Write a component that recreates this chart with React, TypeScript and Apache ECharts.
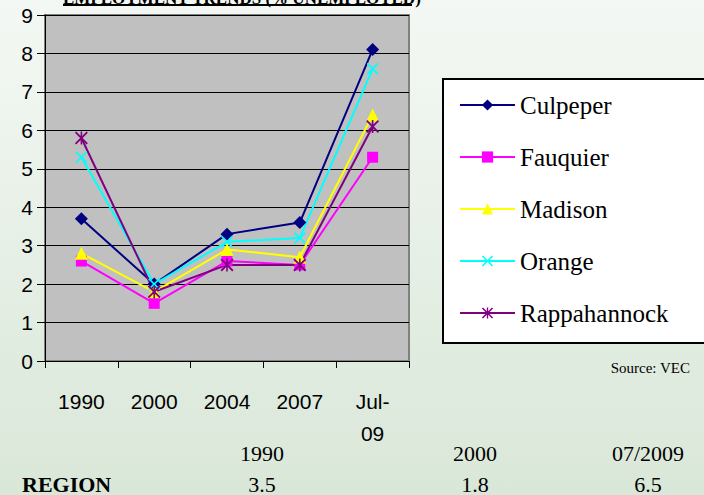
import React, { useEffect, useRef } from "react";
import * as echarts from "echarts";

const categories = ["1990", "2000", "2004", "2007", "Jul-\n09"];
const culpeper = [3.7, 2.0, 3.3, 3.6, 8.1];
const fauquier = [2.6, 1.5, 2.6, 2.5, 5.3];
const madison = [2.8, 1.8, 2.9, 2.7, 6.4];
const orange = [5.3, 2.0, 3.1, 3.2, 7.6];
const rappahannock = [5.8, 1.8, 2.5, 2.5, 6.1];
const seriesNames = ["Culpeper", "Fauquier", "Madison", "Orange", "Rappahannock"];
const regionYears = ["1990", "2000", "07/2009"];
const regionValues = ["3.5", "1.8", "6.5"];
const title = "EMPLOYMENT TRENDS (% UNEMPLOYED)";

const X_PATH = "path://M0,1 L1,0 L5,4 L9,0 L10,1 L6,5 L10,9 L9,10 L5,6 L1,10 L0,9 L4,5 Z";
const STAR_PATH =
  "path://M0,1 L1,0 L5,4 L9,0 L10,1 L6,5 L10,9 L9,10 L5,6 L1,10 L0,9 L4,5 Z M4.4,0 L5.6,0 L5.6,10 L4.4,10 Z";

const TIMES = "'Liberation Serif', 'Times New Roman', serif";
const ARIAL = "'Liberation Sans', Arial, sans-serif";

export default function App() {
  const ref = useRef<HTMLDivElement>(null);
  useEffect(() => {
    document.body.style.margin = "0";
    const chart = echarts.init(ref.current!, null, { renderer: "svg" });
    const colors = ["#000080", "#ff00ff", "#ffff00", "#00ffff", "#800080"];
    const symbols = ["diamond", "rect", "triangle", X_PATH, STAR_PATH];
    const sizes = [13, 11, 13, 12, 13];
    const dataSets = [culpeper, fauquier, madison, orange, rappahannock];
    const colX = [262, 475, 648];
    const graphics: any[] = [
      {
        type: "text",
        x: 63,
        y: 7,
        z: 10,
        style: { text: title, fontFamily: TIMES, fontWeight: "bold", fontSize: 17, fill: "#000", align: "left", verticalAlign: "bottom" },
      },
      {
        type: "rect",
        shape: { x: 63, y: 4, width: 349, height: 2 },
        style: { fill: "#000" },
        z: 10,
      },
      {
        type: "rect",
        shape: { x: 443, y: 79, width: 275, height: 264 },
        style: { fill: "#fff", stroke: "#000", lineWidth: 2 },
        z: 1,
      },
      {
        type: "text",
        x: 690,
        y: 368,
        style: { text: "Source: VEC", fontFamily: TIMES, fontSize: 15, fill: "#000", align: "right", verticalAlign: "middle" },
      },
      {
        type: "text",
        x: 22,
        y: 484,
        style: { text: "REGION", fontFamily: TIMES, fontWeight: "bold", fontSize: 22, fill: "#000", align: "left", verticalAlign: "middle" },
      },
    ];
    regionYears.forEach((t, i) => {
      graphics.push({
        type: "text",
        x: colX[i],
        y: 453,
        style: { text: t, fontFamily: TIMES, fontSize: 22, fill: "#000", align: "center", verticalAlign: "middle" },
      });
      graphics.push({
        type: "text",
        x: colX[i],
        y: 484,
        style: { text: regionValues[i], fontFamily: TIMES, fontSize: 22, fill: "#000", align: "center", verticalAlign: "middle" },
      });
    });
    chart.setOption({
      animation: false,
      backgroundColor: {
        type: "linear",
        x: 0,
        y: 0,
        x2: 0,
        y2: 1,
        colorStops: [
          { offset: 0, color: "#f4f8f4" },
          { offset: 1, color: "#d9e7d8" },
        ],
      },
      grid: {
        left: 45,
        top: 15,
        width: 364,
        height: 346,
        show: true,
        backgroundColor: "#c0c0c0",
        borderColor: "#808080",
        borderWidth: 2,
      },
      xAxis: {
        type: "category",
        data: categories,
        boundaryGap: true,
        axisLine: { show: true, lineStyle: { color: "#000", width: 1 } },
        axisTick: { show: true, length: 7, lineStyle: { color: "#000" } },
        axisLabel: {
          interval: 0,
          margin: 24,
          fontFamily: ARIAL,
          fontSize: 21,
          lineHeight: 32,
          color: "#000",
        },
      },
      yAxis: {
        type: "value",
        min: 0,
        max: 9,
        interval: 1,
        axisLine: { show: true, lineStyle: { color: "#000", width: 1 } },
        axisTick: { show: true, length: 8, lineStyle: { color: "#000" } },
        splitLine: { show: true, lineStyle: { color: "#000", width: 1 } },
        axisLabel: { margin: 12, fontFamily: ARIAL, fontSize: 21, color: "#000" },
      },
      legend: {
        orient: "vertical",
        left: 459,
        top: 92,
        padding: 0,
        itemWidth: 55,
        itemHeight: 14,
        itemGap: 26,
        data: seriesNames,
        textStyle: { fontFamily: TIMES, fontSize: 25, lineHeight: 26, color: "#000" },
      },
      graphic: graphics,
      series: dataSets.map((d, i) => ({
        name: seriesNames[i],
        type: "line",
        data: d,
        symbol: symbols[i],
        symbolSize: sizes[i],
        color: colors[i],
        lineStyle: { width: 2, color: colors[i] },
        itemStyle: { color: colors[i] },
        z: 3,
      })),
    });
    return () => chart.dispose();
  }, []);
  return <div ref={ref} style={{ position: "absolute", left: 0, top: 0, width: 704, height: 495 }} />;
}
